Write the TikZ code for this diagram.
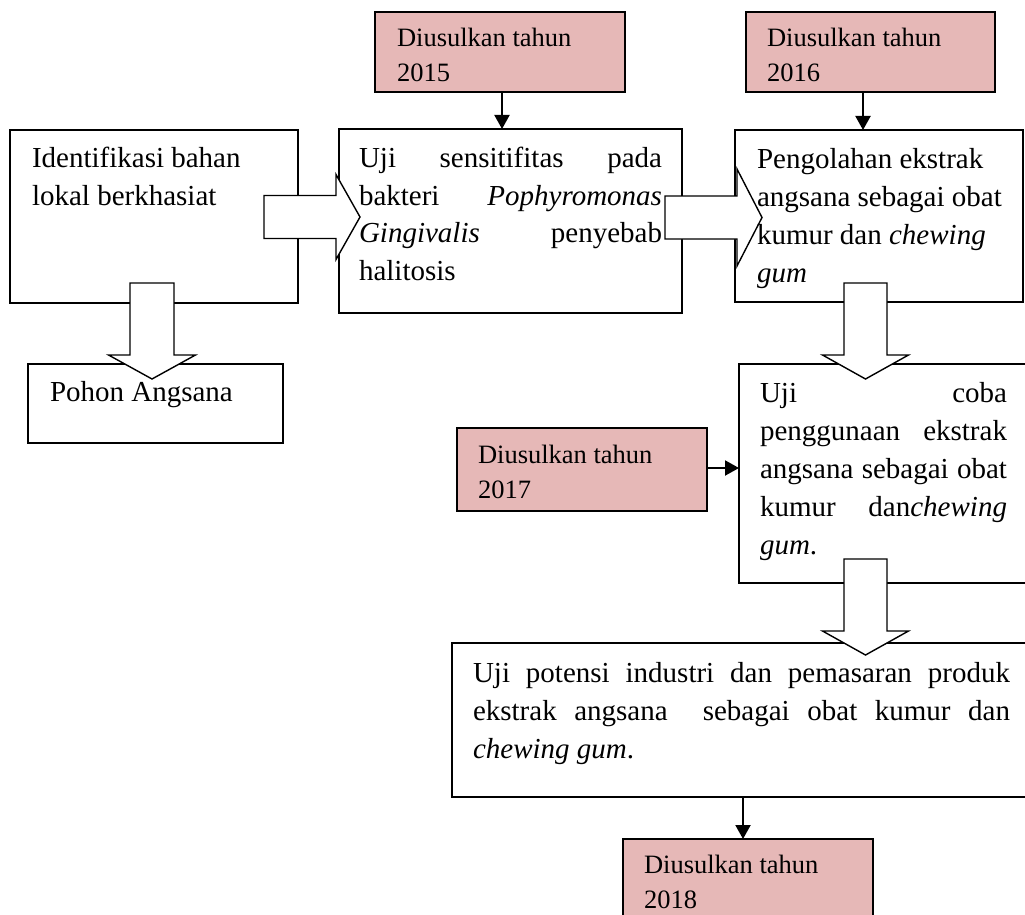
\documentclass[tikz,border=0pt]{standalone}
\usepackage{fontspec}
\setmainfont{Liberation Serif}
\usetikzlibrary{arrows.meta}
\definecolor{pinkbox}{HTML}{E6B8B7}
\newcommand\bigR[6]{\filldraw[bigarr] (#1,#4-#5) -- (#2,#4-#5) -- (#2,#4-#6) -- (#3,#4) -- (#2,#4+#6) -- (#2,#4+#5) -- (#1,#4+#5) -- cycle;}
\newcommand\bigD[6]{\filldraw[bigarr] (#4-#5,#1) -- (#4-#5,#2) -- (#4-#6,#2) -- (#4,#3) -- (#4+#6,#2) -- (#4+#5,#2) -- (#4+#5,#1) -- cycle;}
\tikzset{
  frame/.style={draw=black, line width=1.4pt, fill=white, anchor=north west, inner sep=0pt, outer sep=0pt},
  yearbox/.style={frame, fill=pinkbox},
  txt/.style={anchor=base west, inner sep=0pt, outer sep=0pt, font=\fontsize{29}{38}\selectfont},
  yeartxt/.style={anchor=base west, inner sep=0pt, outer sep=0pt, font=\fontsize{26.5}{35}\selectfont},
  thinarr/.style={line width=2pt, -{Triangle[width=15pt,length=14pt]}},
  bigarr/.style={draw=black, line width=1.4pt, fill=white, line join=miter},
}
\begin{document}
\begin{tikzpicture}[x=1pt,y=-1pt]
\useasboundingbox (0,0) rectangle (1025,915);
\clip (0,0) rectangle (1025,915);
% boxes
\node[frame, minimum width=288pt, minimum height=173pt] (A) at (10,130) {};
\node[frame, minimum width=255pt, minimum height=79pt] (P) at (28,364) {};
\node[frame, minimum width=343pt, minimum height=184pt] (B) at (339,129) {};
\node[frame, minimum width=288pt, minimum height=172pt] (C) at (735,130) {};
\node[frame, minimum width=300pt, minimum height=219pt] (D) at (739,364) {};
\node[frame, minimum width=590pt, minimum height=154pt] (E) at (452,643) {};
\node[yearbox, minimum width=250pt, minimum height=80pt] (y15) at (375,12) {};
\node[yearbox, minimum width=249pt, minimum height=80pt] (y16) at (746,12) {};
\node[yearbox, minimum width=250pt, minimum height=83pt] (y17) at (457,428) {};
\node[yearbox, minimum width=250pt, minimum height=100pt] (y18) at (623,839) {};
% thin arrows
\draw[thinarr] ([xshift=2pt]y15.south) -- ([xshift=2pt]y15.south |- B.north);
\draw[thinarr] ([xshift=-7.5pt]y16.south) -- ([xshift=-7.5pt]y16.south |- C.north);
\draw[thinarr] ([yshift=1.5pt]y17.east) -- ([yshift=1.5pt]y17.east -| D.west);
\draw[thinarr] ([xshift=-5pt]y18.north |- E.south) -- ([xshift=-5pt]y18.north);
% block arrows
\bigR{264}{336}{360}{217}{21.5}{42.5}
\bigR{665}{737}{762}{217.5}{21.5}{48.5}
\bigD{283}{355}{379}{152}{22}{43.5}
\bigD{283}{355}{379}{865.5}{21.5}{43}
\bigD{559}{631}{655}{865.5}{21.5}{43}
% texts
\node[txt] (tA) at (32,167) {\vtop{\hbox{Identifikasi bahan}\hbox{lokal berkhasiat}}};
\node[txt] (tP) at (50,401) {Pohon Angsana};
\node[txt] (tB) at (359,167) {\vtop{%
  \hbox to 303pt{Uji sensitifitas pada}%
  \hbox to 303pt{bakteri \textit{Pophyromonas}}%
  \hbox to 303pt{\textit{Gingivalis} penyebab}%
  \hbox{halitosis}}};
\node[txt] (tC) at (757,168) {\vtop{%
  \hbox{Pengolahan ekstrak}%
  \hbox{angsana sebagai obat}%
  \hbox{kumur dan \textit{chewing}}%
  \hbox{\textit{gum}}}};
\node[txt] (tD) at (760,402) {\vtop{%
  \hbox to 247pt{Uji coba}%
  \hbox to 247pt{penggunaan ekstrak}%
  \hbox to 247pt{angsana sebagai obat}%
  \hbox to 247pt{kumur dan\textit{chewing}}%
  \hbox{\textit{gum}.}}};
\node[txt] (tE) at (473,682) {\vtop{%
  \hbox to 537pt{Uji potensi industri dan pemasaran produk}%
  \hbox to 537pt{ekstrak angsana\ \ sebagai obat kumur dan}%
  \hbox{\textit{chewing gum}.}}};
\node[yeartxt] (t15) at (397,47) {\vtop{\hbox{Diusulkan tahun}\hbox{2015}}};
\node[yeartxt] (t16) at (767,47) {\vtop{\hbox{Diusulkan tahun}\hbox{2016}}};
\node[yeartxt] (t17) at (478,463) {\vtop{\hbox{Diusulkan tahun}\hbox{2017}}};
\node[yeartxt] (t18) at (644,873) {\vtop{\hbox{Diusulkan tahun}\hbox{2018}}};
\end{tikzpicture}
\end{document}
